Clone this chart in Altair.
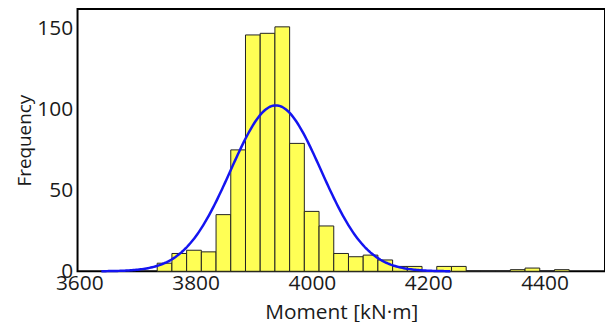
import altair as alt
import numpy as np
import pandas as pd

# Histogram data
bin_start = 3734.0
bin_width = 25.3
counts = [5, 11, 13, 12, 35, 75, 146, 147, 151, 79, 37, 28, 11, 9, 10, 7,
          3, 3, 0, 3, 3, 0, 0, 0, 1, 2, 0, 1]

# Fitted normal curve parameters
fit_mean = 3938.0
fit_sd = 78.0
fit_span = 300.0

x_ticks = [3600, 3800, 4000, 4200, 4400]
y_ticks = [0, 50, 100, 150]

lefts = [bin_start + i * bin_width for i in range(len(counts))]
bars = pd.DataFrame({
    "x": lefts,
    "x2": [l + bin_width for l in lefts],
    "count": counts,
})

total = sum(counts)
xs = np.linspace(fit_mean - fit_span, fit_mean + fit_span, 241)
ys = total * bin_width / (fit_sd * np.sqrt(2 * np.pi)) * np.exp(-0.5 * ((xs - fit_mean) / fit_sd) ** 2)
curve = pd.DataFrame({"x": xs, "y": ys})

FONT = "Open Sans"
xscale = alt.Scale(domain=[3597, 4504], nice=False, zero=False)
yscale = alt.Scale(domain=[0, 162], nice=False)

xaxis = alt.Axis(values=x_ticks, format="d", title="Moment [kN·m]", grid=False, ticks=False, domain=False,
                 labelFont=FONT, labelFontSize=21, labelColor="#1a1a1a", labelPadding=1,
                 titleFont=FONT, titleFontSize=21, titleFontWeight="normal", titleColor="#1a1a1a",
                 titlePadding=9, labelFlush=False, labelOverlap=False)
yaxis = alt.Axis(values=y_ticks, format="d", title="Frequency", grid=False, ticks=False, domain=False,
                 labelFont=FONT, labelFontSize=21, labelColor="#1a1a1a", labelPadding=5,
                 titleFont=FONT, titleFontSize=19, titleFontWeight="normal", titleColor="#1a1a1a",
                 titlePadding=2, labelFlush=False)

hist = alt.Chart(bars).mark_rect(fill="#ffff55", stroke="#222222", strokeWidth=1).encode(
    x=alt.X("x:Q", scale=xscale, axis=xaxis),
    x2="x2:Q",
    y=alt.Y("count:Q", scale=yscale, axis=yaxis),
    y2=alt.datum(0),
)

line = alt.Chart(curve).mark_line(color="#1414f0", strokeWidth=2.5).encode(
    x=alt.X("x:Q", scale=xscale),
    y=alt.Y("y:Q", scale=yscale),
)

chart = alt.layer(hist, line).properties(
    width=531, height=264,
    autosize=alt.AutoSizeParams(type="none"),
    padding={"left": 70, "top": 0, "right": 0, "bottom": 50},
    background="white",
).configure_view(stroke="black", strokeWidth=2)

chart.save("out.html", embed_options={"renderer": "svg", "actions": False})
